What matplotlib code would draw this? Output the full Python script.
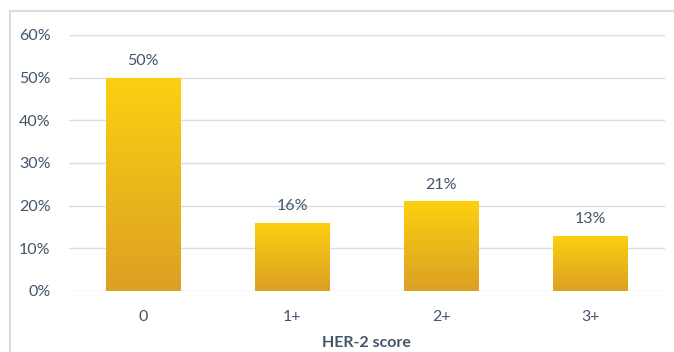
import matplotlib
matplotlib.use("Agg")
import matplotlib.pyplot as plt
import numpy as np
from matplotlib.colors import LinearSegmentedColormap
from matplotlib.patches import Rectangle

categories = ["0", "1+", "2+", "3+"]
values = [50, 16, 21, 13]
yticks = [0, 10, 20, 30, 40, 50, 60]

plt.rcParams['font.family'] = ['Lato', 'DejaVu Sans']
txt = '#44546A'
fs = 11.5

fig = plt.figure(figsize=(6.74, 3.52), dpi=100)
ax = fig.add_axes([68.5/674, 1 - 291/352, 596/674, 256/352])

x = np.arange(len(categories))
bars = ax.bar(x, values, width=0.5, color='none', zorder=3)
cmap = LinearSegmentedColormap.from_list('g', ['#DCA024', '#FCD010'])
grad = np.linspace(0, 1, 256).reshape(-1, 1)
for b in bars:
    x0, y0 = b.get_x(), b.get_y()
    w, h = b.get_width(), b.get_height()
    im = ax.imshow(grad, extent=[x0, x0 + w, y0, y0 + h], origin='lower',
                   cmap=cmap, aspect='auto', zorder=3)
    im.set_clip_path(b)

for xi, v in zip(x, values):
    ax.text(xi, v + 2.2, f"{v}%", ha='center', va='bottom', fontsize=fs, color=txt)

ax.set_xlim(-0.5, len(categories) - 0.5)
ax.set_ylim(0, 60)
ax.set_yticks(yticks)
ax.set_yticklabels([f"{t}%" for t in yticks], fontsize=fs, color=txt)
ax.set_xticks(x)
ax.set_xticklabels(categories, fontsize=fs, color=txt)
ax.tick_params(axis='x', length=0, pad=14)
ax.tick_params(axis='y', length=0, pad=13)
ax.grid(axis='y', color='#D9DEE6', linewidth=1, zorder=0)
for s in ax.spines.values():
    s.set_visible(False)
ax.set_xlabel("HER-2 score", fontsize=fs, fontweight='bold', color=txt, labelpad=8)

fig.patches.append(Rectangle((10/674, -20/352), 700/674, 361/352, transform=fig.transFigure,
                             fill=False, edgecolor='#DCDCDC', linewidth=1.5, clip_on=False))
fig.savefig("out.png", dpi=100)
